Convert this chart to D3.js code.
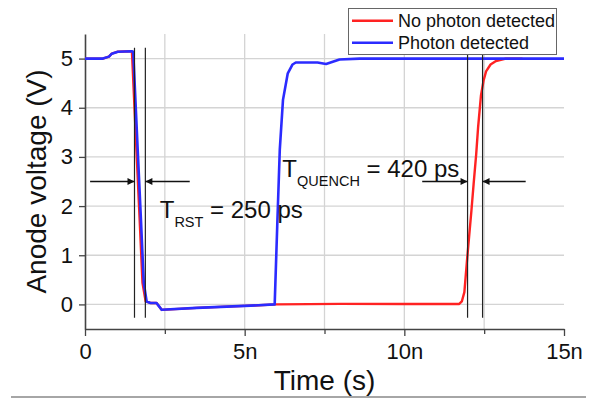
<!DOCTYPE html>
<html>
<head>
<meta charset="utf-8">
<script src="https://cdn.jsdelivr.net/npm/d3@7"></script>
<style>
  body { margin: 0; background: #fff; }
  text { font-family: Arial, "Liberation Sans", sans-serif; }
</style>
</head>
<body>
<div id="chart-area"></div>
<script>
// data (time in ns, voltage in V)
var noPhotonT = [0, 0.56, 0.75, 0.84, 1.03, 1.43, 1.47, 1.61, 1.71, 1.80, 1.90, 2.05, 2.24, 2.32, 2.4, 3.5, 5.0, 6.0, 8.0, 10.0, 11.5, 11.72, 11.8, 11.88, 11.97, 12.1, 12.17, 12.25, 12.31, 12.4, 12.48, 12.56, 12.7, 12.87, 13.18, 13.7];
var noPhotonV = [5, 5, 5.04, 5.1, 5.14, 5.15, 5.14, 3.15, 1.75, 0.44, 0.06, 0.03, 0.03, -0.04, -0.11, -0.07, -0.03, 0.0, 0.01, 0.01, 0.01, 0.01, 0.06, 0.25, 0.95, 1.9, 2.45, 3.05, 3.6, 4.25, 4.55, 4.74, 4.88, 4.95, 5.0, 5.0];
var photonT = [0, 0.56, 0.75, 0.84, 1.03, 1.46, 1.51, 1.65, 1.75, 1.84, 1.93, 2.05, 2.24, 2.32, 2.4, 3.5, 5.0, 5.94, 6.02, 6.1, 6.2, 6.35, 6.5, 6.6, 7.28, 7.55, 7.97, 8.6, 15];
var photonV = [5, 5, 5.04, 5.1, 5.14, 5.15, 5.14, 3.15, 1.75, 0.44, 0.06, 0.03, 0.03, -0.04, -0.11, -0.07, -0.03, 0.0, 1.6, 3.15, 4.16, 4.7, 4.88, 4.92, 4.92, 4.89, 4.98, 5.0, 5.0];

var xTicks = [0, 5, 10, 15];
var xTickLabels = ["0", "5n", "10n", "15n"];
var xMinor = [2.5, 7.5, 12.5];
var yTicks = [0, 1, 2, 3, 4, 5];

// timing markers
var markerRst = [1.55, 1.89];
var markerQuench = [11.98, 12.45];

var width = 597, height = 401;
var svg = d3.select("#chart-area").append("svg").attr("width", width).attr("height", height);

var x = d3.scaleLinear().domain([0, 15]).range([85, 564]);
var y = d3.scaleLinear().domain([-0.5, 5.5]).range([329, 34]);

// grid
var grid = svg.append("g");
grid.selectAll(".hg").data(yTicks).enter().append("line")
  .attr("x1", x(0)).attr("x2", x(15)).attr("y1", d => y(d)).attr("y2", d => y(d))
  .attr("stroke", "#d4d4d4").attr("stroke-width", 1.3);
grid.selectAll(".vg").data(xMinor.concat([5, 10])).enter().append("line")
  .attr("y1", y(-0.5)).attr("y2", y(5.5)).attr("x1", d => x(d)).attr("x2", d => x(d))
  .attr("stroke", "#d4d4d4").attr("stroke-width", 1.3);

// axes
var xAxis = d3.axisBottom(x).tickValues(xTicks).tickFormat((d, i) => xTickLabels[i]).tickSize(7).tickSizeOuter(0);
var xg = svg.append("g").attr("transform", "translate(0," + y(-0.5) + ")").call(xAxis);
xg.selectAll("text").attr("font-size", "22px").attr("fill", "#111").attr("dy", "0.9em");
var xMinorAxis = d3.axisBottom(x).tickValues(xMinor).tickFormat("").tickSize(5).tickSizeOuter(0);
var xg2 = svg.append("g").attr("transform", "translate(0," + y(-0.5) + ")").call(xMinorAxis);
xg2.select(".domain").remove();

var yAxis = d3.axisLeft(y).tickValues(yTicks).tickFormat(d3.format("d")).tickSize(6).tickSizeOuter(0);
var yg = svg.append("g").attr("transform", "translate(" + x(0) + ",0)").call(yAxis);
yg.selectAll("text").attr("font-size", "22px").attr("fill", "#111").attr("x", -12);

svg.selectAll(".domain").attr("stroke", "#444").attr("stroke-width", 1.6);
svg.selectAll(".tick line").attr("stroke", "#444").attr("stroke-width", 1.3);

// labels
svg.append("text").attr("x", (x(0) + x(15)) / 2).attr("y", 390).attr("text-anchor", "middle")
  .attr("font-size", "28px").attr("fill", "#111").text("Time (s)");
svg.append("text").attr("transform", "translate(46," + (y(-0.5) + y(5.5)) / 2 + ") rotate(-90)")
  .attr("text-anchor", "middle").attr("font-size", "28px").attr("fill", "#111").text("Anode voltage (V)");

// curves
var line = d3.line().x(d => x(d[0])).y(d => y(d[1]));
var redData = noPhotonT.map((t, i) => [t, noPhotonV[i]]);
var blueData = photonT.map((t, i) => [t, photonV[i]]);
svg.append("path").datum(redData).attr("d", line).attr("fill", "none")
  .attr("stroke", "#ff2222").attr("stroke-width", 2.4).attr("stroke-linejoin", "round");
svg.append("path").datum(blueData).attr("d", line).attr("fill", "none")
  .attr("stroke", "#2b2bff").attr("stroke-width", 2.6).attr("stroke-linejoin", "round");

// markers
svg.append("defs").append("marker").attr("id", "ah").attr("viewBox", "0 0 10 10")
  .attr("refX", 10).attr("refY", 5).attr("markerWidth", 9).attr("markerHeight", 7)
  .attr("markerUnits", "userSpaceOnUse").attr("orient", "auto")
  .append("path").attr("d", "M0,0L10,5L0,10Z").attr("fill", "#111");

var mk = svg.append("g");
mk.selectAll(".vm").data(markerRst.concat(markerQuench)).enter().append("line")
  .attr("x1", d => x(d)).attr("x2", d => x(d)).attr("y1", y(5.22)).attr("y2", y(-0.27))
  .attr("stroke", "#222").attr("stroke-width", 1.2);

var arrows = [[0.16, markerRst[0]], [3.28, markerRst[1]], [10.56, markerQuench[0]], [13.8, markerQuench[1]]];
mk.selectAll(".ar").data(arrows).enter().append("line")
  .attr("x1", d => x(d[0])).attr("x2", d => x(d[1])).attr("y1", y(2.5)).attr("y2", y(2.5))
  .attr("stroke", "#111").attr("stroke-width", 1.6).attr("marker-end", "url(#ah)");

// annotations
var t1 = svg.append("text").attr("x", x(2.34)).attr("y", y(1.76)).attr("font-size", "24px").attr("fill", "#111");
t1.append("tspan").text("T");
t1.append("tspan").attr("font-size", "14.5px").attr("dy", 9).text("RST");
t1.append("tspan").attr("dy", -9).text(" = 250 ps");

var t2 = svg.append("text").attr("x", x(6.18)).attr("y", y(2.59)).attr("font-size", "24px").attr("fill", "#111");
t2.append("tspan").text("T");
t2.append("tspan").attr("font-size", "14.5px").attr("dy", 9).text("QUENCH");
t2.append("tspan").attr("dy", -9).text(" = 420 ps");

// legend
var lg = svg.append("g");
lg.append("rect").attr("x", 348.5).attr("y", 8.5).attr("width", 208).attr("height", 46)
  .attr("fill", "#fff").attr("stroke", "#666").attr("stroke-width", 1);
var legendItems = [["No photon detected", "#ff2222"], ["Photon detected", "#2b2bff"]];
legendItems.forEach((d, i) => {
  lg.append("line").attr("x1", 352).attr("x2", 393).attr("y1", 20.7 + i * 22).attr("y2", 20.7 + i * 22)
    .attr("stroke", d[1]).attr("stroke-width", 2.4);
  lg.append("text").attr("x", 398).attr("y", 27 + i * 22).attr("font-size", "18px").attr("fill", "#111").text(d[0]);
});

// bottom rule
svg.append("line").attr("x1", 11).attr("x2", 586).attr("y1", 397).attr("y2", 397)
  .attr("stroke", "#888").attr("stroke-width", 1.5);
</script>
</body>
</html>
